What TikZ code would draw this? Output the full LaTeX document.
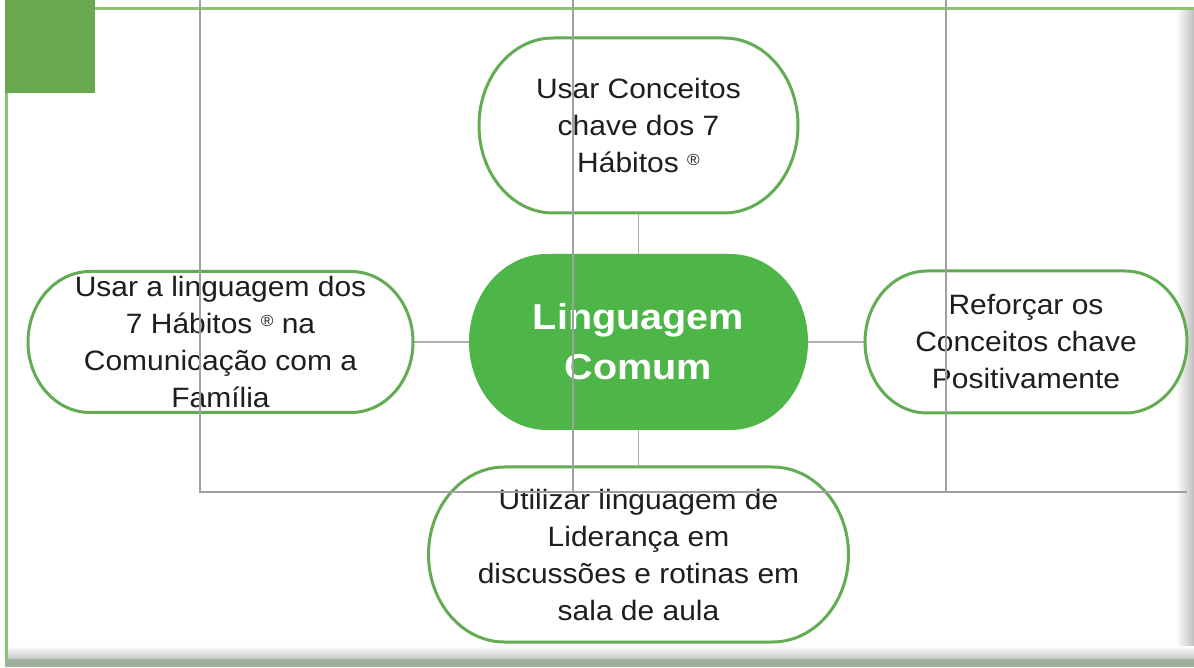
\documentclass[tikz,border=0pt]{standalone}
\usepackage{fontspec}
\setmainfont{Liberation Sans}
\newfontfamily\boxfont[FakeStretch=1.07]{Liberation Sans}
\newfontfamily\midfont[FakeStretch=1.1]{Liberation Sans}
\usetikzlibrary{calc,backgrounds}
\definecolor{pillgreen}{RGB}{98,172,84}
\definecolor{midgreen}{RGB}{78,182,72}
\definecolor{sqgreen}{RGB}{106,168,79}
\definecolor{framegreen}{RGB}{140,196,112}
\definecolor{gridgray}{RGB}{160,160,160}
\definecolor{conngray}{RGB}{175,175,175}
\definecolor{txt}{RGB}{30,30,30}
\definecolor{bargray}{RGB}{155,178,152}
\tikzset{
  boxtext/.style={align=center,text=txt,font=\boxfont\fontsize{28}{37}\selectfont,inner sep=0pt},
  midtext/.style={align=center,text=white,font=\midfont\bfseries\fontsize{36}{50}\selectfont,inner sep=0pt},
  pillline/.style={draw=pillgreen,line width=3pt,fill=white},
  midfill/.style={fill=midgreen},
  conn/.style={draw=conngray,line width=1.5pt},
  gridline/.style={draw=gridgray,line width=2pt},
  frameline/.style={draw=framegreen,line width=3pt},
}
\newcommand\pill[5]{\path[#5] ($(#1)+({-#2+#4},#3)$) -- ($(#1)+({#2-#4},#3)$) arc[start angle=90,end angle=-90,x radius=#4,y radius=#3] -- ($(#1)+({-#2+#4},-#3)$) arc[start angle=270,end angle=90,x radius=#4,y radius=#3] -- cycle;}
\newcommand\reg{\raisebox{7pt}{\fontsize{16}{16}\selectfont ®}}
\begin{document}
\begin{tikzpicture}[x=1pt,y=1pt]
\useasboundingbox (0,0) rectangle (1194,667);
% nodes (text)
\node[midtext] (mid) at (638.5,325) {Linguagem\\Comum};
\node[boxtext] (top) at (638.5,541.5) {Usar Conceitos\\chave dos 7\\Hábitos \reg};
\node[boxtext] (left) at (220.5,325) {Usar a linguagem dos\\7 Hábitos \reg{} na\\Comunicação com a\\Família};
\node[boxtext] (right) at (1026,325) {Reforçar os\\Conceitos chave\\Positivamente};
\node[boxtext] (bot) at (638.5,112.5) {Utilizar linguagem de\\Liderança em\\discussões e rotinas em\\sala de aula};
\begin{pgfonlayer}{background}
  \fill[white] (0,0) rectangle (1194,667);
  \shade[left color=white,right color=gray!50] (1176,8) rectangle (1194,658);
  \shade[top color=white,bottom color=gray!45] (5,8) rectangle (1194,21);
  \fill[bargray] (5,0) rectangle (1194,8);
  \draw[frameline] (6.5,8) -- (6.5,574);
  \draw[frameline] (95,658) -- (1194,658);
  \fill[sqgreen] (5,574) rectangle (95,667);
  \draw[conn] (top) -- (mid);
  \draw[conn] (mid) -- (bot);
  \draw[conn] (left) -- (mid);
  \draw[conn] (mid) -- (right);
  \pill{top}{159.5}{87.5}{74}{pillline}
  \pill{left}{192.5}{70.5}{62}{pillline}
  \pill{right}{161}{71}{62}{pillline}
  \pill{bot}{210}{87.5}{76}{pillline}
  \pill{mid}{169.5}{88}{78}{midfill}
\end{pgfonlayer}
% grid overlay
\draw[gridline] (200,667) -- (200,175) -- (1187,175);
\draw[gridline] (573,667) -- (573,175);
\draw[gridline] (946,667) -- (946,175);
\end{tikzpicture}
\end{document}
